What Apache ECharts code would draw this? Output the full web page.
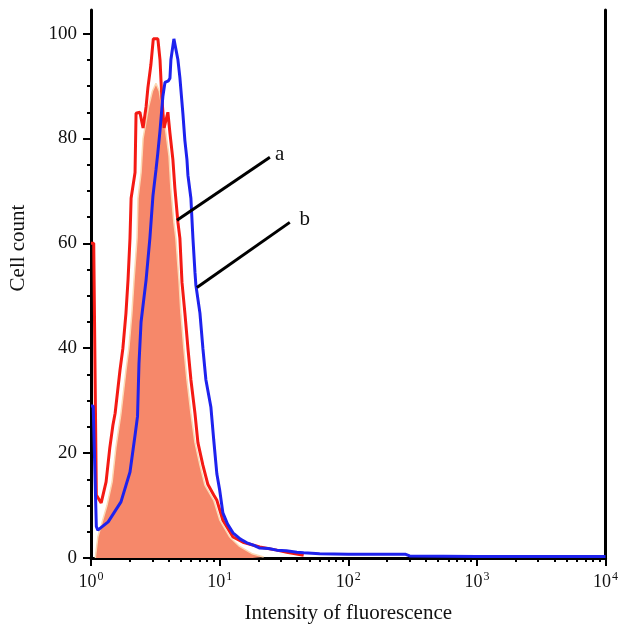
<!DOCTYPE html>
<html>
<head>
<meta charset="utf-8">
<script src="https://cdn.jsdelivr.net/npm/echarts@6/dist/echarts.min.js"></script>
<style>
html,body{margin:0;padding:0;background:#fff;}
#chart{width:621px;height:632px;}
</style>
</head>
<body>
<div id="chart"></div>
<script>
// ---- data ----
// curve a (red outline): [fluorescence intensity, cell count]
const curveA = [
  [1.0,60],[1.05,60],[1.1,12],[1.2,10.5],[1.31,14.5],[1.4,21],[1.48,25.3],[1.54,27.6],
  [1.68,35.8],[1.77,40],[1.87,46.7],[1.94,53],[2.01,61],[2.05,68.6],[2.2,73.5],
  [2.24,84.8],[2.4,85],[2.54,82],[2.68,86],[2.77,89.7],[2.92,94],[3.05,99],[3.14,99.2],
  [3.31,99],[3.44,95],[3.55,88],[3.7,82],[3.96,85],[4.11,81],[4.33,76],[4.49,70.5],
  [4.74,64],[4.91,61],[5.1,52.5],[5.37,46.7],[5.67,40],[5.98,34],[6.43,27.6],
  [6.78,22],[7.41,17.7],[8.11,14],[9.0,12],[9.52,11],[10.6,7.2],[12.7,4],[15.2,3],
  [20.5,2.1],[27.8,1.5],[33.3,1.1],[45,0.5]
];
// curve a (filled area)
const curveAFill = [
  [1.08,0],[1.13,4],[1.33,10],[1.46,14.5],[1.56,21],[1.71,27.6],[1.87,35.8],[1.97,40],
  [2.08,46.7],[2.16,53],[2.28,61],[2.32,68.6],[2.45,73.5],[2.54,80],[2.8,86],[3.0,89],
  [3.2,90.5],[3.4,89],[3.55,86],[3.69,84],[4.04,76.7],[4.18,70.5],[4.41,64],[4.57,61],
  [4.83,53],[5.0,46.7],[5.27,40],[5.57,34],[5.98,27.6],[6.43,22],[7.03,17.7],[7.68,13.9],
  [9.0,11],[10.05,7.2],[12.0,4],[14.3,2.2],[18,0.8],[22,0.2]
];
// curve b (blue outline)
const curveB = [
  [1.0,29],[1.04,29],[1.1,6],[1.13,5.3],[1.36,6.9],[1.71,10.7],[2.01,16.4],[2.2,23.4],
  [2.3,27],[2.36,37],[2.45,45],[2.68,53],[2.87,61],[3.03,69],[3.2,74],[3.3,77],
  [3.44,81.5],[3.62,88],[3.76,90.7],[4.0,91],[4.11,91.5],[4.18,95],[4.41,99],[4.49,99],
  [4.74,95],[4.91,91.6],[5.18,84.8],[5.37,79.6],[5.57,76],[5.67,73],[5.98,68.6],[6.2,61],
  [6.43,54.5],[6.54,52],[7.03,46.7],[7.41,40],[7.82,34],[8.55,28.8],[9.0,22.5],[9.52,16],
  [10,13],[10.6,8.6],[11.5,6.5],[12.7,4.8],[14.5,3.6],[16.3,2.9],[18.5,2.4],[20.5,1.9],
  [24,1.8],[27.8,1.5],[33,1.4],[39.8,1.1],[45,1],[60,0.8],[100,0.7],[280,0.7],[300,0.4],
  [1000,0.3],[10000,0.3]
];
// annotation pointers: [start point on curve, end point, label]
const pointerA = { from: [4.66,64.4], to: [24.6,76.4], label: 'a' };
const pointerB = { from: [6.66,51.6], to: [35.1,64], label: 'b' };

// axes
const xMajorTicks = [1,10,100,1000,10000];
const xMinorTicks = [2,3,4,5,6,7,8,9,20,30,40,50,60,70,80,90,200,300,400,500,600,700,800,900,2000,3000,4000,5000,6000,7000,8000,9000];
const yMajorTicks = [0,20,40,60,80,100];
const yMinorTicks = [5,10,15,25,30,35,45,50,55,65,70,75,85,90,95];
const yMax = 104.5;
const xTitle = 'Intensity of fluorescence';
const yTitle = 'Cell count';

const FONT = 'Liberation Serif';
const chart = echarts.init(document.getElementById('chart'));

function pointerMarkLine(p, dist, dy) {
  const lbl = { show: true, position: 'end', distance: dist, offset: [0, dy], formatter: p.label,
                fontFamily: FONT, fontSize: 21, color: '#111' };
  return [
    { coord: p.from, label: lbl },
    { coord: p.to, label: lbl }
  ];
}

chart.setOption({
  animation: false,
  backgroundColor: '#fff',
  textStyle: { fontFamily: FONT },
  grid: { left: 91, right: 15, top: 10, bottom: 74, containLabel: false },
  xAxis: [
    {
      type: 'log', logBase: 10, min: 1, max: 10000, position: 'bottom',
      name: xTitle, nameLocation: 'middle', nameGap: 45,
      nameTextStyle: { fontFamily: FONT, fontSize: 21, color: '#111' },
      axisLine: { show: true, lineStyle: { color: '#000', width: 3 } },
      axisTick: { show: true, inside: false, length: 8, lineStyle: { color: '#000', width: 2 }, customValues: xMajorTicks },
      axisLabel: {
        show: true, margin: 13, color: '#111', fontFamily: FONT,
        customValues: xMajorTicks,
        formatter: function (v) { return '{b|10}{s|' + Math.round(Math.log10(v)) + '}'; },
        rich: {
          b: { fontFamily: FONT, fontSize: 18, color: '#111' },
          s: { fontFamily: FONT, fontSize: 12, color: '#111', padding: [0, 0, 10, 1] }
        }
      },
      splitLine: { show: false }, minorTick: { show: false }
    },
    {
      type: 'value', min: 0, max: 4, position: 'bottom',
      axisLine: { show: false },
      axisTick: { show: true, length: 4, lineStyle: { color: '#000', width: 2 }, customValues: xMinorTicks.map(Math.log10) },
      axisLabel: { show: false },
      splitLine: { show: false }
    }
  ],
  yAxis: [
    {
      type: 'value', min: 0, max: yMax, position: 'left',
      name: yTitle, nameLocation: 'middle', nameGap: 62, nameRotate: 90,
      nameTextStyle: { fontFamily: FONT, fontSize: 21, color: '#111', padding: [0, 0, 0, 72] },
      axisLine: { show: true, lineStyle: { color: '#000', width: 3 } },
      axisTick: { show: true, length: 8, lineStyle: { color: '#000', width: 2 }, customValues: yMajorTicks },
      axisLabel: { show: true, margin: 14, fontFamily: FONT, fontSize: 19, color: '#111', customValues: yMajorTicks },
      splitLine: { show: false }
    },
    {
      type: 'value', min: 0, max: yMax, position: 'left',
      axisLine: { show: false },
      axisTick: { show: true, length: 4, lineStyle: { color: '#000', width: 2 }, customValues: yMinorTicks },
      axisLabel: { show: false },
      splitLine: { show: false }
    },
    {
      type: 'value', min: 0, max: yMax, position: 'right',
      axisLine: { show: true, lineStyle: { color: '#000', width: 3 } },
      axisTick: { show: false }, axisLabel: { show: false }, splitLine: { show: false }
    }
  ],
  series: [
    {
      name: 'a-fill', type: 'line', xAxisIndex: 0, yAxisIndex: 0,
      data: curveAFill, showSymbol: false, symbol: 'none', z: 2,
      lineStyle: { color: '#FCD9B4', width: 1.5 },
      areaStyle: { color: '#F6886A', opacity: 1 }
    },
    {
      name: 'a', type: 'line', xAxisIndex: 0, yAxisIndex: 0,
      data: curveA, showSymbol: false, symbol: 'none', z: 3,
      lineStyle: { color: '#F41A14', width: 3 }
    },
    {
      name: 'b', type: 'line', xAxisIndex: 0, yAxisIndex: 0,
      data: curveB, showSymbol: false, symbol: 'none', z: 4,
      lineStyle: { color: '#1E22EE', width: 3 },
      markLine: {
        silent: true, symbol: ['none', 'none'], animation: false,
        lineStyle: { color: '#000', width: 3, type: 'solid' },
        label: { show: true, position: 'end', distance: 6, fontFamily: FONT, fontSize: 21, color: '#111' },
        emphasis: { disabled: true },
        data: [pointerMarkLine(pointerA, 6, 0), pointerMarkLine(pointerB, 12, 4)]
      }
    }
  ]
});
</script>
</body>
</html>
